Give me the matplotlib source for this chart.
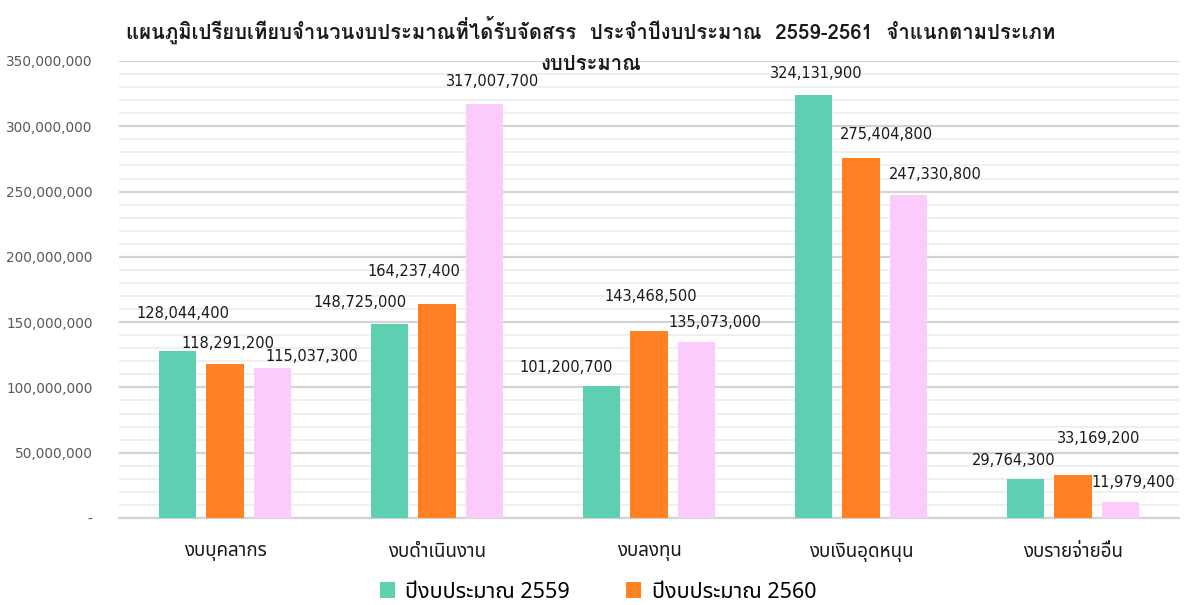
import matplotlib
matplotlib.use("Agg")
import matplotlib.pyplot as plt
from matplotlib import font_manager
from matplotlib.ticker import MultipleLocator, FuncFormatter
import numpy as np

categories = ["งบบุคลากร", "งบดำเนินงาน", "งบลงทุน", "งบเงินอุดหนุน", "งบรายจ่ายอื่น"]
series_names = ["ปีงบประมาณ 2559", "ปีงบประมาณ 2560", "ปีงบประมาณ 2561"]
values_2559 = [128044400, 148725000, 101200700, 324131900, 29764300]
values_2560 = [118291200, 164237400, 143468500, 275404800, 33169200]
values_2561 = [115037300, 317007700, 135073000, 247330800, 11979400]
title_line1 = "แผนภูมิเปรียบเทียบจำนวนงบประมาณที่ได้รับจัดสรร  ประจำปีงบประมาณ  2559-2561  จำแนกตามประเภท"
title_line2 = "งบประมาณ"

colors = ["#5ECFB1", "#FF8123", "#FBCBFB"]

# label offsets in pixels (dx, dy) from top centre of each bar
label_offsets = [
    [(5, 37), (-30, 21), (-36, 18), (2, 21), (-12, 19)],
    [(3, 20), (-23, 32), (2, 34), (25, 24), (26, 36)],
    [(40, 11), (8, 23), (19, 19), (27, 21), (13, 20)],
]

names = {f.name for f in font_manager.fontManager.ttflist}
def pick(cands):
    out = [c for c in cands if c in names]
    return out + ["DejaVu Sans"]

thai_ui = pick(["Noto Sans Thai", "Loma", "Sarabun"])
thai_title = pick(["Loma", "Noto Sans Thai", "Sarabun"])

plt.rcParams["font.family"] = thai_ui

fig = plt.figure(figsize=(11.87, 6.05), dpi=100)
ax = fig.add_axes([119/1187, 87/605, 1060/1187, 457/605])

x = np.arange(len(categories))
w = 0.175
step = 0.222
all_vals = [values_2559, values_2560, values_2561]
bars = []
for i, vals in enumerate(all_vals):
    b = ax.bar(x + (i - 1) * step, vals, width=w, color=colors[i], zorder=3,
               label=series_names[i])
    bars.append(b)
    for j, rect in enumerate(b):
        dx, dy = label_offsets[i][j]
        ax.annotate(f"{vals[j]:,}", (rect.get_x() + rect.get_width()/2, rect.get_height()),
                    xytext=(dx, dy), textcoords="offset pixels", ha="center", va="center",
                    fontsize=10.5, color="#1a1a1a", family=["DejaVu Sans"], zorder=5)

ax.set_xlim(-0.5, len(categories) - 0.5)
ax.set_ylim(0, 350_000_000)
ax.yaxis.set_major_locator(MultipleLocator(50_000_000))
ax.yaxis.set_minor_locator(MultipleLocator(10_000_000))
ax.yaxis.set_major_formatter(FuncFormatter(lambda v, p: "-" if v == 0 else f"{int(v):,}"))
ax.grid(axis="y", which="major", color="#d4d4d4", linewidth=1.6, zorder=0)
ax.grid(axis="y", which="minor", color="#efefef", linewidth=1.4, zorder=0)
for s in ["top", "right", "left"]:
    ax.spines[s].set_visible(False)
ax.spines["bottom"].set_color("#d4d4d4")
ax.spines["bottom"].set_linewidth(1.6)
ax.tick_params(axis="both", which="both", length=0)
ax.tick_params(axis="y", pad=19, labelsize=9.8, labelcolor="#595959")
for t in ax.get_yticklabels():
    t.set_family(["DejaVu Sans"])
ax.set_xticks(x)
ax.set_xticklabels(categories, fontsize=13.5, color="#1a1a1a")
ax.tick_params(axis="x", pad=18)

fig.text(591/1187, 1 - 30/605, title_line1, ha="center", va="center",
         fontsize=14.6, fontweight="bold", family=thai_title, color="#1a1a1a")
fig.text(591/1187, 1 - 64/605, title_line2, ha="center", va="center",
         fontsize=14.6, fontweight="bold", family=thai_title, color="#1a1a1a")

leg = fig.legend(handles=[bars[0], bars[1]], labels=series_names[:2],
                 loc="center", bbox_to_anchor=(598/1187, 1 - 592/605), ncol=2,
                 frameon=False, fontsize=15.5, handlelength=0.7, handleheight=0.7,
                 columnspacing=2.6, handletextpad=0.5)
for t in leg.get_texts():
    t.set_fontweight("medium")

fig.savefig("out.png", dpi=100)
